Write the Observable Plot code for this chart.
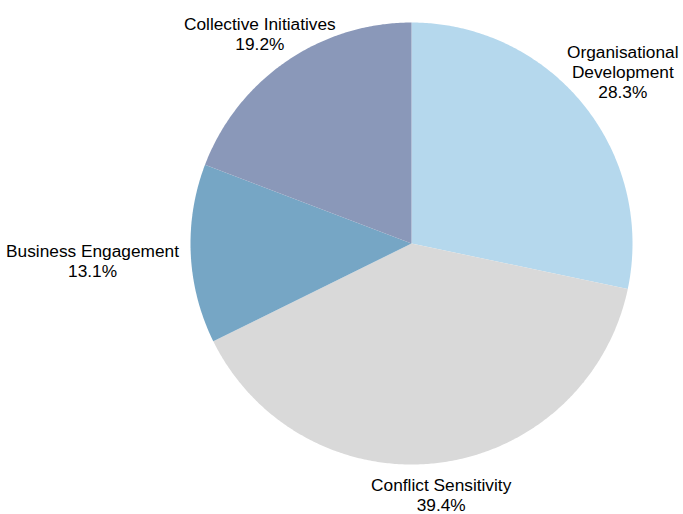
<!DOCTYPE html>
<html>
<head>
<meta charset="utf-8">
<script src="https://cdn.jsdelivr.net/npm/d3@7"></script>
<script src="https://cdn.jsdelivr.net/npm/@observablehq/plot@0.6"></script>
<style>
  html, body { margin: 0; padding: 0; background: #fff; }
  #chart svg { display: block; }
</style>
</head>
<body>
<div id="chart"></div>
<script>
// ---- data ----
const categories = ["Organisational Development", "Conflict Sensitivity", "Business Engagement", "Collective Initiatives"];
const values = [28.3, 39.4, 13.1, 19.2];
const colors = ["#b5d8ed", "#d9d9d9", "#76a6c5", "#8a98b9"];

// ---- layout ----
const W = 683, H = 514;
const cx = 411, cy = 243, R = 221;
const fontSize = 17.3, lineHeight = 1.15;
const fontFamily = "'Liberation Sans', Arial, sans-serif";

const pie = d3.pie().sort(null).value(d => d.value);
const arcs = pie(categories.map((c, i) => ({ key: c, value: values[i] })));

// polygon points for each slice (unit circle, angle clockwise from top)
const pts = [];
for (const a of arcs) {
  pts.push({ key: a.data.key, x: 0, y: 0 });
  const n = Math.max(2, Math.ceil((a.endAngle - a.startAngle) / (Math.PI / 360)));
  for (let k = 0; k <= n; k++) {
    const t = a.startAngle + (a.endAngle - a.startAngle) * k / n;
    pts.push({ key: a.data.key, x: Math.sin(t), y: Math.cos(t) });
  }
}

// labels placed outside the pie, text block pushed away from the anchor point
const ctx = document.createElement("canvas").getContext("2d");
ctx.font = `${fontSize}px 'Liberation Sans', Arial, sans-serif`;
const rA = 233 / R;           // anchor radius (relative)
const labels = arcs.map(a => {
  const mid = (a.startAngle + a.endAngle) / 2;
  const name = a.data.key.length > 24 ? a.data.key.replace(" ", "\n") : a.data.key;
  const text = `${name}\n${a.data.value.toFixed(1)}%`;
  const lines = text.split("\n");
  const w = Math.max(...lines.map(l => ctx.measureText(l).width));
  const h = lines.length * fontSize * lineHeight;
  const s = Math.sin(mid), c = Math.cos(mid);
  const fx = Math.sign(s) * Math.pow(Math.abs(s), 2.4);
  const fy = Math.sign(c) * Math.pow(Math.abs(c), 0.4);
  return {
    text,
    x: rA * s + (fx * w / 2) / R,
    y: rA * c + (fy * h / 2) / R
  };
});

const chart = Plot.plot({
  width: W,
  height: H,
  margin: 0,
  style: { fontFamily, background: "#fff" },
  x: { domain: [-1, 1], range: [cx - R, cx + R], axis: null },
  y: { domain: [-1, 1], range: [cy + R, cy - R], axis: null },
  color: { domain: categories, range: colors },
  marks: [
    Plot.line(pts, { x: "x", y: "y", z: "key", fill: "key", stroke: "none" }),
    Plot.text(labels, {
      x: "x", y: "y", text: "text",
      textAnchor: "middle", lineAnchor: "middle",
      fontSize, lineHeight, fill: "#000"
    })
  ]
});
document.getElementById("chart").appendChild(chart);
</script>
</body>
</html>
